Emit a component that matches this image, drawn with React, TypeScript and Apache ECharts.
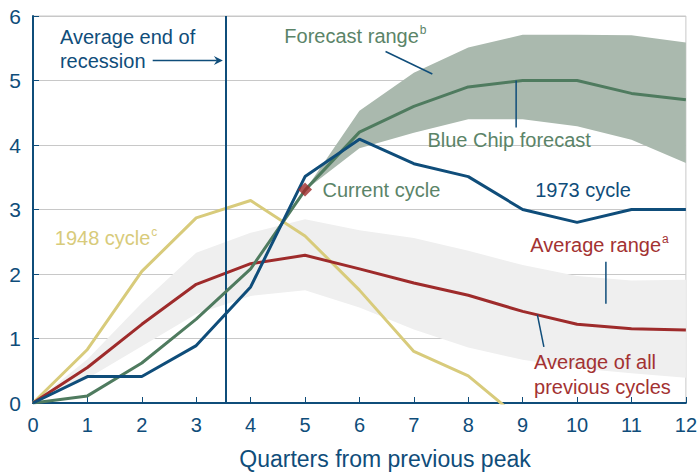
import React, { useEffect, useRef } from "react";
import * as echarts from "echarts";

const quarters = [0, 1, 2, 3, 4, 5, 6, 7, 8, 9, 10, 11, 12];
const cycle1948 = [0, 0.83, 2.04, 2.87, 3.14, 2.59, 1.75, 0.8, 0.42, -0.28];
const averageAll = [0, 0.55, 1.22, 1.84, 2.16, 2.29, 2.08, 1.86, 1.67, 1.42, 1.22, 1.15, 1.13];
const averageLow = [0, 0.38, 0.88, 1.38, 1.66, 1.75, 1.48, 1.14, 0.86, 0.67, 0.54, 0.46, 0.39];
const averageHigh = [0, 0.68, 1.55, 2.33, 2.64, 2.85, 2.68, 2.56, 2.36, 2.14, 1.97, 1.9, 1.91];
const forecastLow = [null, null, null, null, null, 3.3, 3.95, 4.19, 4.4, 4.4, 4.29, 4.08, 3.72];
const forecastHigh = [null, null, null, null, null, 3.3, 4.53, 5.12, 5.51, 5.71, 5.71, 5.7, 5.59];
const cycle1973 = [0, 0.41, 0.41, 0.89, 1.8, 3.51, 4.09, 3.71, 3.51, 3.0, 2.8, 3.0, 3.0];
const currentCycle = [0, 0.11, 0.62, 1.3, 2.08, 3.3, 4.2, 4.6, 4.9, 5.0, 5.0, 4.8, 4.7];
const currentPoint = [5, 3.31];
const recessionEnd = 3.55;
const yTicks = [0, 6, 1];
const xTicks = [0, 12, 1];

const BLUE = "#0f4d7a";
const GREEN = "#4f7b5f";
const GREEN_TXT = "#5b8468";
const FC_BAND = "#aab9ae";
const YELLOW = "#d8cb7b";
const RED = "#9e2b2b";
const RED_TXT = "#a33232";
const GRAY_BAND = "#efefef";
const GRID = "#c8c8c8";
const FONT = "Liberation Sans, Arial, sans-serif";

const pairs = (vals: (number | null)[]) => vals.map((v, i) => [quarters[i], v]);
const bandRows = (lo: (number | null)[], hi: (number | null)[]) =>
  quarters.map((q, i) => [q, lo[i], hi[i]]).filter((r) => r[1] != null && r[2] != null);

// annotation anchors in data coordinates
const texts = [
  { at: [0.495, 5.68], text: "{m|Average end of}", color: BLUE },
  { at: [0.495, 5.31], text: "{m|recession}", color: BLUE },
  { at: [4.62, 5.69], text: "{m|Forecast range}{s|b}", color: GREEN_TXT },
  { at: [7.25, 4.07], text: "{m|Blue Chip forecast}", color: GREEN_TXT },
  { at: [5.32, 3.31], text: "{m|Current cycle}", color: GREEN_TXT },
  { at: [9.23, 3.31], text: "{m|1973 cycle}", color: BLUE },
  { at: [0.4, 2.56], text: "{m|1948 cycle}{s|c}", color: YELLOW },
  { at: [9.14, 2.45], text: "{m|Average range}{s|a}", color: RED_TXT },
  { at: [9.21, 0.64], text: "{m|Average of all}", color: RED_TXT },
  { at: [9.21, 0.25], text: "{m|previous cycles}", color: RED_TXT },
];
const leaders = [
  [[6.48, 5.45], [7.34, 5.1]],
  [[8.88, 5.0], [8.88, 4.27]],
  [[10.53, 2.19], [10.53, 1.54]],
  [[9.27, 1.37], [9.39, 0.87]],
];
const arrow = [[2.2, 5.31], [3.49, 5.31]];

function bandSeries(rows: any[], color: string, z: number) {
  return {
    type: "custom",
    data: rows,
    silent: true,
    z,
    encode: { x: 0, y: [1, 2] },
    renderItem: (params: any, api: any) => {
      if (params.dataIndex !== 0) return null;
      const top = rows.map((r) => api.coord([r[0], r[2]]));
      const bottom = rows.map((r) => api.coord([r[0], r[1]])).reverse();
      return {
        type: "polygon",
        shape: { points: top.concat(bottom) },
        style: { fill: color, stroke: "none" },
      };
    },
  };
}

export default function App() {
  const ref = useRef<HTMLDivElement>(null);
  useEffect(() => {
    const chart = echarts.init(ref.current!, null, { renderer: "svg" });
    chart.setOption({
      animation: false,
      backgroundColor: "#fff",
      grid: { left: 33, right: 13, top: 16, bottom: 69, show: true, borderColor: GRID, borderWidth: 1 },
      xAxis: {
        type: "value",
        min: xTicks[0],
        max: xTicks[1],
        interval: xTicks[2],
        axisLine: { show: true, lineStyle: { color: BLUE, width: 2 } },
        axisTick: { show: true, inside: true, length: 6, lineStyle: { color: BLUE, width: 1 } },
        axisLabel: { color: BLUE, fontSize: 20, fontFamily: FONT, margin: 12 },
        splitLine: { show: false },
      },
      yAxis: {
        type: "value",
        min: yTicks[0],
        max: yTicks[1],
        interval: yTicks[2],
        axisLine: { show: true, lineStyle: { color: BLUE, width: 2 } },
        axisTick: { show: true, inside: true, length: 6, lineStyle: { color: BLUE, width: 1 } },
        axisLabel: { color: BLUE, fontSize: 21, fontFamily: FONT, margin: 12 },
        splitLine: { show: true, lineStyle: { color: GRID, width: 1 } },
      },
      series: [
        bandSeries(bandRows(averageLow, averageHigh), GRAY_BAND, 1),
        bandSeries(bandRows(forecastLow, forecastHigh), FC_BAND, 2),
        { type: "line", data: pairs(cycle1948), symbol: "none", lineStyle: { color: YELLOW, width: 3 }, z: 3 },
        { type: "line", data: pairs(averageAll), symbol: "none", lineStyle: { color: RED, width: 3 }, z: 4 },
        { type: "line", data: pairs(currentCycle), symbol: "none", lineStyle: { color: GREEN, width: 3 }, z: 5 },
        {
          type: "line", data: pairs(cycle1973), symbol: "none", lineStyle: { color: BLUE, width: 3 }, z: 6,
          markLine: {
            silent: true, symbol: "none", label: { show: false },
            lineStyle: { color: BLUE, width: 2, type: "solid" },
            data: [{ xAxis: recessionEnd }],
          },
        },
        {
          type: "scatter", data: [currentPoint], symbol: "diamond", symbolSize: 14,
          itemStyle: { color: RED }, z: 7,
        },
      ],
    });

    const px = (p: number[]) => chart.convertToPixel({ gridIndex: 0 }, p) as number[];
    const graphic: any[] = [];
    texts.forEach((t) => {
      const [x, y] = px(t.at);
      graphic.push({
        type: "text", x, y, z: 20,
        style: {
          text: t.text, verticalAlign: "middle", align: "left",
          rich: {
            m: { fontSize: 20, fontFamily: FONT, fill: t.color, lineHeight: 24 },
            s: { fontSize: 12, fontFamily: FONT, fill: t.color, verticalAlign: "top", lineHeight: 24, padding: [0, 0, 10, 1] },
          },
        },
      });
    });
    leaders.forEach(([a, b]) => {
      const [x1, y1] = px(a);
      const [x2, y2] = px(b);
      graphic.push({ type: "line", z: 20, shape: { x1, y1, x2, y2 }, style: { stroke: BLUE, lineWidth: 1.5 } });
    });
    const [ax1, ay1] = px(arrow[0]);
    const [ax2, ay2] = px(arrow[1]);
    graphic.push({ type: "line", z: 20, shape: { x1: ax1, y1: ay1, x2: ax2 - 6, y2: ay2 }, style: { stroke: BLUE, lineWidth: 1.5 } });
    graphic.push({
      type: "polygon", z: 20,
      shape: { points: [[ax2, ay2], [ax2 - 9, ay2 - 4.5], [ax2 - 6, ay2], [ax2 - 9, ay2 + 4.5]] },
      style: { fill: BLUE },
    });
    graphic.push({
      type: "text", x: 385, y: 459, z: 20,
      style: { text: "Quarters from previous peak", fill: BLUE, fontSize: 23, fontFamily: FONT, align: "center", verticalAlign: "middle" },
    });
    chart.setOption({ graphic });
    return () => chart.dispose();
  }, []);
  return <div ref={ref} style={{ width: 700, height: 472, position: "absolute", left: 0, top: 0 }} />;
}
